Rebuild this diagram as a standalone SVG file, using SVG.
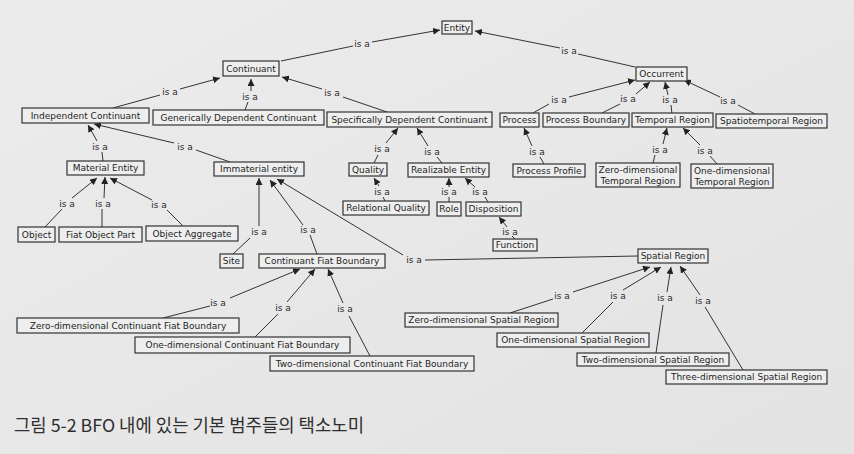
<svg xmlns="http://www.w3.org/2000/svg" width="854" height="454" viewBox="0 0 854 454">
<defs>
<linearGradient id="bg" x1="0" y1="0" x2="1" y2="1">
<stop offset="0" stop-color="#ececec"/>
<stop offset="1" stop-color="#e3e3e3"/>
</linearGradient>
<marker id="ah" markerUnits="userSpaceOnUse" markerWidth="8" markerHeight="7" refX="7" refY="3.5" orient="auto">
<path d="M0,0 L7,3.5 L0,7 z" fill="#222"/>
</marker>
<style>
.n rect{fill:#eeeeee;stroke:#333;stroke-width:1.2}
.n text{font-family:"DejaVu Sans",Verdana,sans-serif;font-size:9px;fill:#1e1e1e;text-anchor:middle}
#edges path{fill:none;stroke:#333;stroke-width:1}
#edges path.b{marker-end:url(#ah)}
#edges text{font-family:"DejaVu Sans",Verdana,sans-serif;font-size:9px;fill:#2a2a2a;text-anchor:middle}
.cap{font-family:"Noto Sans CJK KR","Noto Sans",sans-serif;font-size:17.8px;fill:#2e2e2e}
</style>
</defs>
<rect width="854" height="454" fill="url(#bg)"/>

<g id="edges">
<path d="M281,61 L353,46"/><path class="b" d="M372,42 L440,30"/><text x="362" y="47">is a</text>
<path d="M635,67 L578,54"/><path class="b" d="M560,48 L475,31"/><text x="569" y="54">is a</text>
<path d="M113,108 L160,95"/><path class="b" d="M180,89 L220,78"/><text x="170" y="95">is a</text>
<path d="M245,110 L248,102"/><path class="b" d="M251,91 L251,79"/><text x="250" y="100">is a</text>
<path d="M387,112 L343,97"/><path class="b" d="M322,89 L282,77"/><text x="332" y="96">is a</text>
<path d="M533,113 L549,104"/><path class="b" d="M569,97 L635,80"/><text x="559" y="103">is a</text>
<path d="M602,113 L620,104"/><path class="b" d="M636,94 L650,82"/><text x="628" y="102">is a</text>
<path d="M672,114 L671,105"/><path class="b" d="M668,95 L665,82"/><text x="670" y="103">is a</text>
<path d="M755,114 L738,105"/><path class="b" d="M720,97 L684,80"/><text x="728" y="104">is a</text>
<path d="M103,161 L102,152"/><path class="b" d="M97,141 L88,125"/><text x="100" y="150">is a</text>
<path d="M230,162 L196,150"/><path class="b" d="M174,143 L94,124"/><text x="185" y="150">is a</text>
<path d="M45,227 L62,209"/><path class="b" d="M72,198 L97,178"/><text x="67" y="207">is a</text>
<path d="M102,227 L102,209"/><path class="b" d="M104,198 L105,177"/><text x="103" y="207">is a</text>
<path d="M183,226 L167,210"/><path class="b" d="M152,200 L110,178"/><text x="159" y="208">is a</text>
<path d="M233,254 L250,238"/><path class="b" d="M259,226 L259,178"/><text x="259" y="235">is a</text>
<path d="M317,254 L310,235"/><path class="b" d="M303,225 L270,180"/><text x="308" y="233">is a</text>
<path d="M638,256 L425,260"/><path class="b" d="M403,255 L277,179"/><text x="414" y="263">is a</text>
<path d="M374,163 L378,155"/><path class="b" d="M386,143 L398,128"/><text x="382" y="152">is a</text>
<path d="M442,163 L437,157"/><path class="b" d="M428,146 L417,128"/><text x="432" y="155">is a</text>
<path d="M385,201 L383,197"/><path class="b" d="M379,186 L374,178"/><text x="382" y="195">is a</text>
<path d="M449,202 L449,197"/><path class="b" d="M449,187 L449,178"/><text x="449" y="195">is a</text>
<path d="M488,202 L485,197"/><path class="b" d="M475,187 L465,178"/><text x="480" y="195">is a</text>
<path d="M515,239 L512,236"/><path class="b" d="M507,227 L499,217"/><text x="510" y="235">is a</text>
<path d="M544,164 L540,157"/><path class="b" d="M532,146 L524,128"/><text x="537" y="155">is a</text>
<path d="M653,163 L655,155"/><path class="b" d="M663,144 L667,128"/><text x="660" y="153">is a</text>
<path d="M717,164 L710,156"/><path class="b" d="M700,145 L683,128"/><text x="705" y="154">is a</text>
<path d="M163,318 L210,306"/><path class="b" d="M230,298 L300,269"/><text x="218" y="306">is a</text>
<path d="M255,337 L278,314"/><path class="b" d="M287,302 L315,269"/><text x="283" y="311">is a</text>
<path d="M370,356 L349,316"/><path class="b" d="M343,303 L328,269"/><text x="345" y="312">is a</text>
<path d="M510,313 L553,299"/><path class="b" d="M573,292 L650,267"/><text x="562" y="299">is a</text>
<path d="M582,333 L613,302"/><path class="b" d="M623,290 L661,267"/><text x="618" y="299">is a</text>
<path d="M656,353 L663,305"/><path class="b" d="M667,292 L671,267"/><text x="665" y="301">is a</text>
<path d="M743,370 L705,307"/><path class="b" d="M700,295 L680,266"/><text x="703" y="304">is a</text>
</g>

<g id="entity" class="n"><rect x="442" y="21" width="30" height="13"/><text x="457" y="30.5">Entity</text></g>
<g id="continuant" class="n"><rect x="223" y="61" width="56" height="15"/><text x="251" y="71.5">Continuant</text></g>
<g id="occurrent" class="n"><rect x="636" y="67" width="51" height="14"/><text x="661.5" y="77">Occurrent</text></g>
<g id="independent-continuant" class="n"><rect x="22" y="108" width="127" height="15"/><text x="85.5" y="118.5">Independent Continuant</text></g>
<g id="generically-dependent-continuant" class="n"><rect x="153" y="110" width="171" height="15"/><text x="238.5" y="120.5">Generically Dependent Continuant</text></g>
<g id="specifically-dependent-continuant" class="n"><rect x="327" y="112" width="165" height="15"/><text x="409.5" y="122.5">Specifically Dependent Continuant</text></g>
<g id="process" class="n"><rect x="500" y="113" width="39" height="14"/><text x="519.5" y="123">Process</text></g>
<g id="process-boundary" class="n"><rect x="543" y="113" width="86" height="14"/><text x="586" y="123">Process Boundary</text></g>
<g id="temporal-region" class="n"><rect x="632" y="113" width="81" height="14"/><text x="672.5" y="123">Temporal Region</text></g>
<g id="spatiotemporal-region" class="n"><rect x="716" y="114" width="111" height="14"/><text x="771.5" y="124">Spatiotemporal Region</text></g>
<g id="material-entity" class="n"><rect x="67" y="161" width="77" height="14"/><text x="105.5" y="171">Material Entity</text></g>
<g id="immaterial-entity" class="n"><rect x="214" y="162" width="90" height="14"/><text x="259" y="172">Immaterial entity</text></g>
<g id="quality" class="n"><rect x="349" y="163" width="38" height="13"/><text x="368" y="172.5">Quality</text></g>
<g id="realizable-entity" class="n"><rect x="408" y="163" width="81" height="14"/><text x="448.5" y="173">Realizable Entity</text></g>
<g id="process-profile" class="n"><rect x="513" y="164" width="72" height="13"/><text x="549" y="173.5">Process Profile</text></g>
<g id="zero-dimensional-temporal-region" class="n"><rect x="596" y="163" width="84" height="24"/><text x="638" y="173">Zero-dimensional</text><text x="638" y="184">Temporal Region</text></g>
<g id="one-dimensional-temporal-region" class="n"><rect x="691" y="164" width="82" height="24"/><text x="732" y="174">One-dimensional</text><text x="732" y="185">Temporal Region</text></g>
<g id="relational-quality" class="n"><rect x="343" y="201" width="86" height="14"/><text x="386" y="211">Relational Quality</text></g>
<g id="role" class="n"><rect x="437" y="202" width="24" height="14"/><text x="449" y="212">Role</text></g>
<g id="disposition" class="n"><rect x="466" y="202" width="55" height="14"/><text x="493.5" y="212">Disposition</text></g>
<g id="function" class="n"><rect x="493" y="239" width="44" height="12"/><text x="515" y="248">Function</text></g>
<g id="object" class="n"><rect x="18" y="227" width="37" height="15"/><text x="36.5" y="237.5">Object</text></g>
<g id="fiat-object-part" class="n"><rect x="59" y="227" width="83" height="15"/><text x="100.5" y="237.5">Fiat Object Part</text></g>
<g id="object-aggregate" class="n"><rect x="146" y="226" width="92" height="15"/><text x="192" y="236.5">Object Aggregate</text></g>
<g id="site" class="n"><rect x="220" y="254" width="23" height="14"/><text x="231.5" y="264">Site</text></g>
<g id="continuant-fiat-boundary" class="n"><rect x="259" y="254" width="126" height="14"/><text x="322" y="264">Continuant Fiat Boundary</text></g>
<g id="spatial-region" class="n"><rect x="638" y="249" width="70" height="14"/><text x="673" y="259">Spatial Region</text></g>
<g id="zero-dimensional-cfb" class="n"><rect x="17" y="318" width="222" height="15"/><text x="128" y="328.5">Zero-dimensional Continuant Fiat Boundary</text></g>
<g id="one-dimensional-cfb" class="n"><rect x="135" y="337" width="215" height="16"/><text x="242.5" y="348">One-dimensional Continuant Fiat Boundary</text></g>
<g id="two-dimensional-cfb" class="n"><rect x="270" y="356" width="204" height="15"/><text x="372" y="366.5">Two-dimensional Continuant Fiat Boundary</text></g>
<g id="zero-dimensional-spatial-region" class="n"><rect x="405" y="313" width="153" height="14"/><text x="481.5" y="323">Zero-dimensional Spatial Region</text></g>
<g id="one-dimensional-spatial-region" class="n"><rect x="497" y="333" width="152" height="14"/><text x="573" y="343">One-dimensional Spatial Region</text></g>
<g id="two-dimensional-spatial-region" class="n"><rect x="577" y="353" width="152" height="13"/><text x="653" y="362.5">Two-dimensional Spatial Region</text></g>
<g id="three-dimensional-spatial-region" class="n"><rect x="666" y="370" width="161" height="14"/><text x="746.5" y="380">Three-dimensional Spatial Region</text></g>

<text class="cap" x="14" y="432">그림 5-2 BFO 내에 있는 기본 범주들의 택소노미</text>
</svg>
